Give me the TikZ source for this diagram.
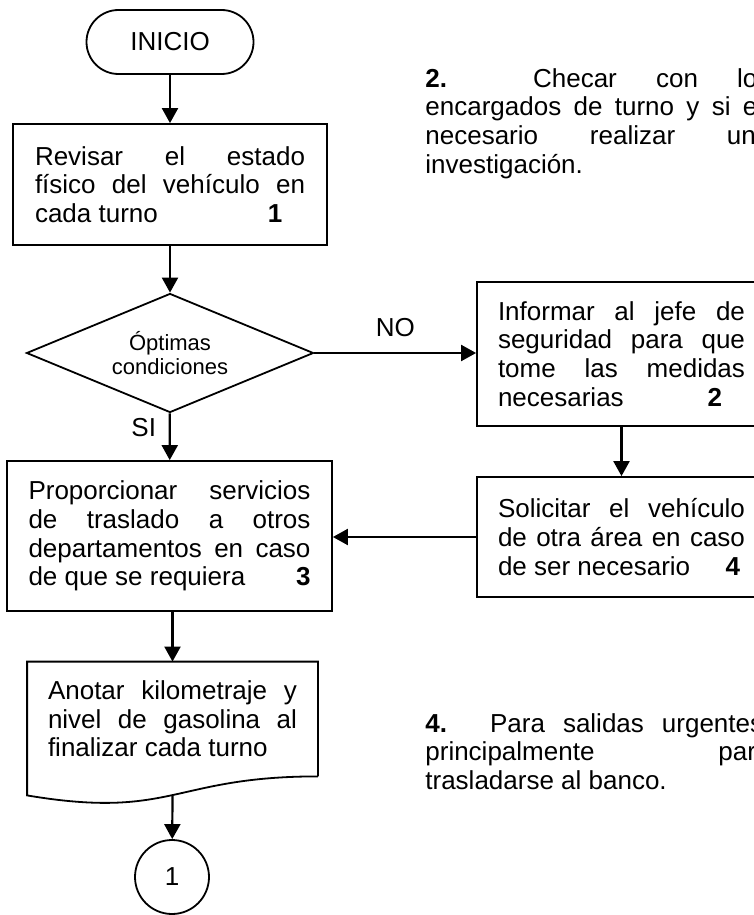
\documentclass[tikz,border=0pt]{standalone}
\usepackage{fontspec}
\setmainfont{Liberation Sans}
\usetikzlibrary{arrows.meta,shapes.geometric}
\newcommand{\jline}[1]{\makebox[\hsize][s]{\spaceskip=0pt\xspaceskip=0pt #1}\\}
\begin{document}
\begin{tikzpicture}[x=0.5pt,y=-0.5pt,
  texto/.style={font=\fontsize{13pt}{14.3pt}\selectfont},
  borde/.style={line width=0.9pt},
  paso/.style={texto,borde,draw,rectangle,align=justify,inner sep=0pt},
  inicio/.style={texto,borde,draw,rounded corners=16pt,minimum width=83.5pt,minimum height=32pt},
  decision/.style={borde,draw,diamond,aspect=2.4,inner sep=0pt,align=center,minimum width=143.5pt,minimum height=59.5pt,font=\fontsize{11pt}{12pt}\selectfont},
  conector/.style={texto,borde,draw,circle,minimum size=37pt,inner sep=0pt},
  nota/.style={texto,anchor=north west,inner sep=0pt,text width=172.5pt,align=justify},
  flecha/.style={-{Triangle[length=7.5pt,width=8pt]},line width=1.1pt}]
\useasboundingbox (0,0) rectangle (754,915);
\clip (0,0) rectangle (754,915);
\node[inicio] (inicio) at (170,42){INICIO};
\node[paso,minimum width=157pt,minimum height=60.5pt,text width=135pt] (paso1) at (170,184.5){\jline{Revisar el estado}\jline{físico del vehículo en}cada turno\hspace{55pt}\textbf{1}};
\node[decision] (decision) at (170,353){Óptimas\\condiciones};
\node[paso,minimum width=144.5pt,minimum height=72pt,text width=123.5pt] (paso2) at (621.5,354){\jline{Informar al jefe de}\jline{seguridad para que}\jline{tome las medidas}necesarias\hspace{42pt}\textbf{2}};
\node[paso,minimum width=144.5pt,minimum height=60pt,text width=123.5pt] (paso4) at (621.5,537){\jline{Solicitar el vehículo}\jline{de otra área en caso}de ser necesario\hspace{17.7pt}\textbf{4}};
\node[paso,minimum width=162.5pt,minimum height=75pt,text width=141pt] (paso3) at (169.5,536){\jline{Proporcionar servicios}\jline{de traslado a otros}\jline{departamentos en caso}\makebox[\hsize]{de que se requiera\hfill\textbf{3}}};
\node[paso,draw=none,minimum width=144.5pt,minimum height=56.5pt,text width=124.5pt] (anotar) at (172.5,719){\jline{Anotar kilometraje y}\jline{nivel de gasolina al}finalizar cada turno};
\draw[borde](anotar.south east) -- (anotar.north east) -- (anotar.north west) -- ([yshift=-9.5pt]anotar.south west) .. controls ([yshift=-21.75pt]anotar.south) and (anotar.south) .. (anotar.south east);
\coordinate (anotar-pie) at ([yshift=-9.5pt]anotar.south);
\node[conector] (conector) at (172,877){1};
\node[nota] (nota2) at (425,68){\jline{\textbf{2.}\hspace{43pt}Checar con los}\jline{encargados de turno y si es}\jline{necesario realizar una}investigación.};
\node[nota] (nota4) at (425,713){\jline{\textbf{4.}\hspace{21.5pt}Para salidas urgentes,}\jline{principalmente para}trasladarse al banco.};
\draw[flecha](inicio) -- (paso1);
\draw[flecha](paso1) -- (decision);
\draw[flecha](decision.east) -- node[above=4pt,texto]{NO} (decision.east -| paso2.west);
\draw[flecha](decision) -- node[left=3pt,pos=0.3,texto]{SI} (paso3);
\draw[flecha](paso2.south -| paso4) -- (paso4);
\draw[flecha](paso4.west) -- (paso4.west -| paso3.east);
\draw[flecha](paso3.south -| anotar) -- (anotar);
\draw[flecha](anotar-pie) -- (conector);
\end{tikzpicture}
\end{document}
